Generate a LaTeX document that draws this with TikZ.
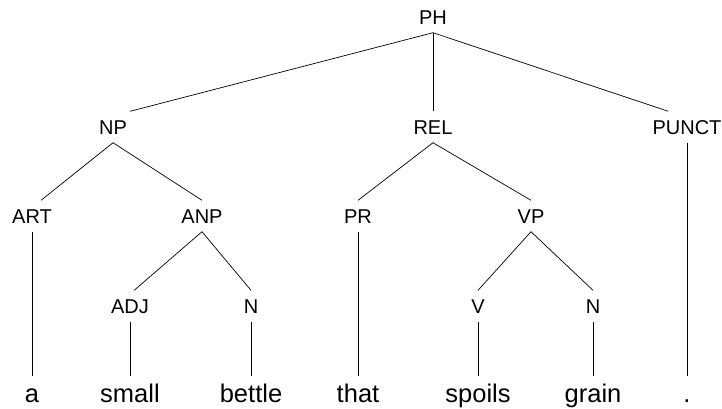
\documentclass[tikz,border=0pt]{standalone}
\usepackage{fontspec}
\setmainfont{Liberation Sans}

\begin{document}
\begin{tikzpicture}[x=1pt,y=-1pt]
		\tikzset{cat/.style={font=\fontsize{20}{24}\selectfont,text height=14pt,text depth=0pt,inner xsep=3pt,inner ysep=8.5pt},
			word/.style={anchor=base,font=\fontsize{25.5}{30}\selectfont,text height=18pt,inner xsep=2pt,inner ysep=8pt},
			branch/.style={line width=0.7pt}}
		\useasboundingbox (0,0) rectangle (722,408);
		\coordinate (c_ph) at (433,17);
		\coordinate (c_np) at (113,127);
		\coordinate (c_rel) at (433,127);
		\coordinate (c_punct) at (687,127);
		\coordinate (c_art) at (32,216);
		\coordinate (c_anp) at (202,216);
		\coordinate (c_pr) at (358,216);
		\coordinate (c_vp) at (531,216);
		\coordinate (c_adj) at (130,306);
		\coordinate (c_nA) at (251,306);
		\coordinate (c_v) at (478,306);
		\coordinate (c_nB) at (593,306);
		\node[cat] (ph) at (c_ph) {PH};
		\node[cat] (np) at (c_np) {NP};
		\node[cat] (rel) at (c_rel) {REL};
		\node[cat] (punct) at (c_punct) {PUNCT};
		\node[cat] (art) at (c_art) {ART};
		\node[cat] (anp) at (c_anp) {ANP};
		\node[cat] (pr) at (c_pr) {PR};
		\node[cat] (vp) at (c_vp) {VP};
		\node[cat] (adj) at (c_adj) {ADJ};
		\node[cat] (nA) at (c_nA) {N};
		\node[cat] (v) at (c_v) {V};
		\node[cat] (nB) at (c_nB) {N};
		% the words of the sentence
		\node[word] (w_a) at (32,402) {a};
		\node[word] (w_small) at (130,402) {small};
		\node[word] (w_bettle) at (251,402) {bettle};
		\node[word] (w_that) at (358,402) {that};
		\node[word] (w_spoils) at (478,402) {spoils};
		\node[word] (w_grain) at (593,402) {grain};
		\node[word] (w_dot) at (687,402) {.};
	
		\draw[branch] (ph.south) -- (np.north east);
		\draw[branch] (ph.south) -- (rel.north);
		\draw[branch] (ph.south) -- (punct.140);
		\draw[branch] (np.south) -- (art.60);
		\draw[branch] (np.south) -- (anp.north);
		\draw[branch] (anp.south) -- (adj.75);
		\draw[branch] (anp.south) -- (nA.north);
		\draw[branch] (rel.south) -- (pr.north);
		\draw[branch] (rel.south) -- (vp.north);
		\draw[branch] (vp.south) -- (v.north);
		\draw[branch] (vp.south) -- (nB.north);
		\draw[branch] (art.south) -- (w_a.north);
		\draw[branch] (adj.south) -- (w_small.north);
		\draw[branch] (nA.south) -- (w_bettle.north);
		\draw[branch] (pr.south) -- (w_that.north);
		\draw[branch] (v.south) -- (w_spoils.north);
		\draw[branch] (nB.south) -- (w_grain.north);
		\draw[branch] (punct.south) -- (w_dot.north);
	\end{tikzpicture}
\end{document}
